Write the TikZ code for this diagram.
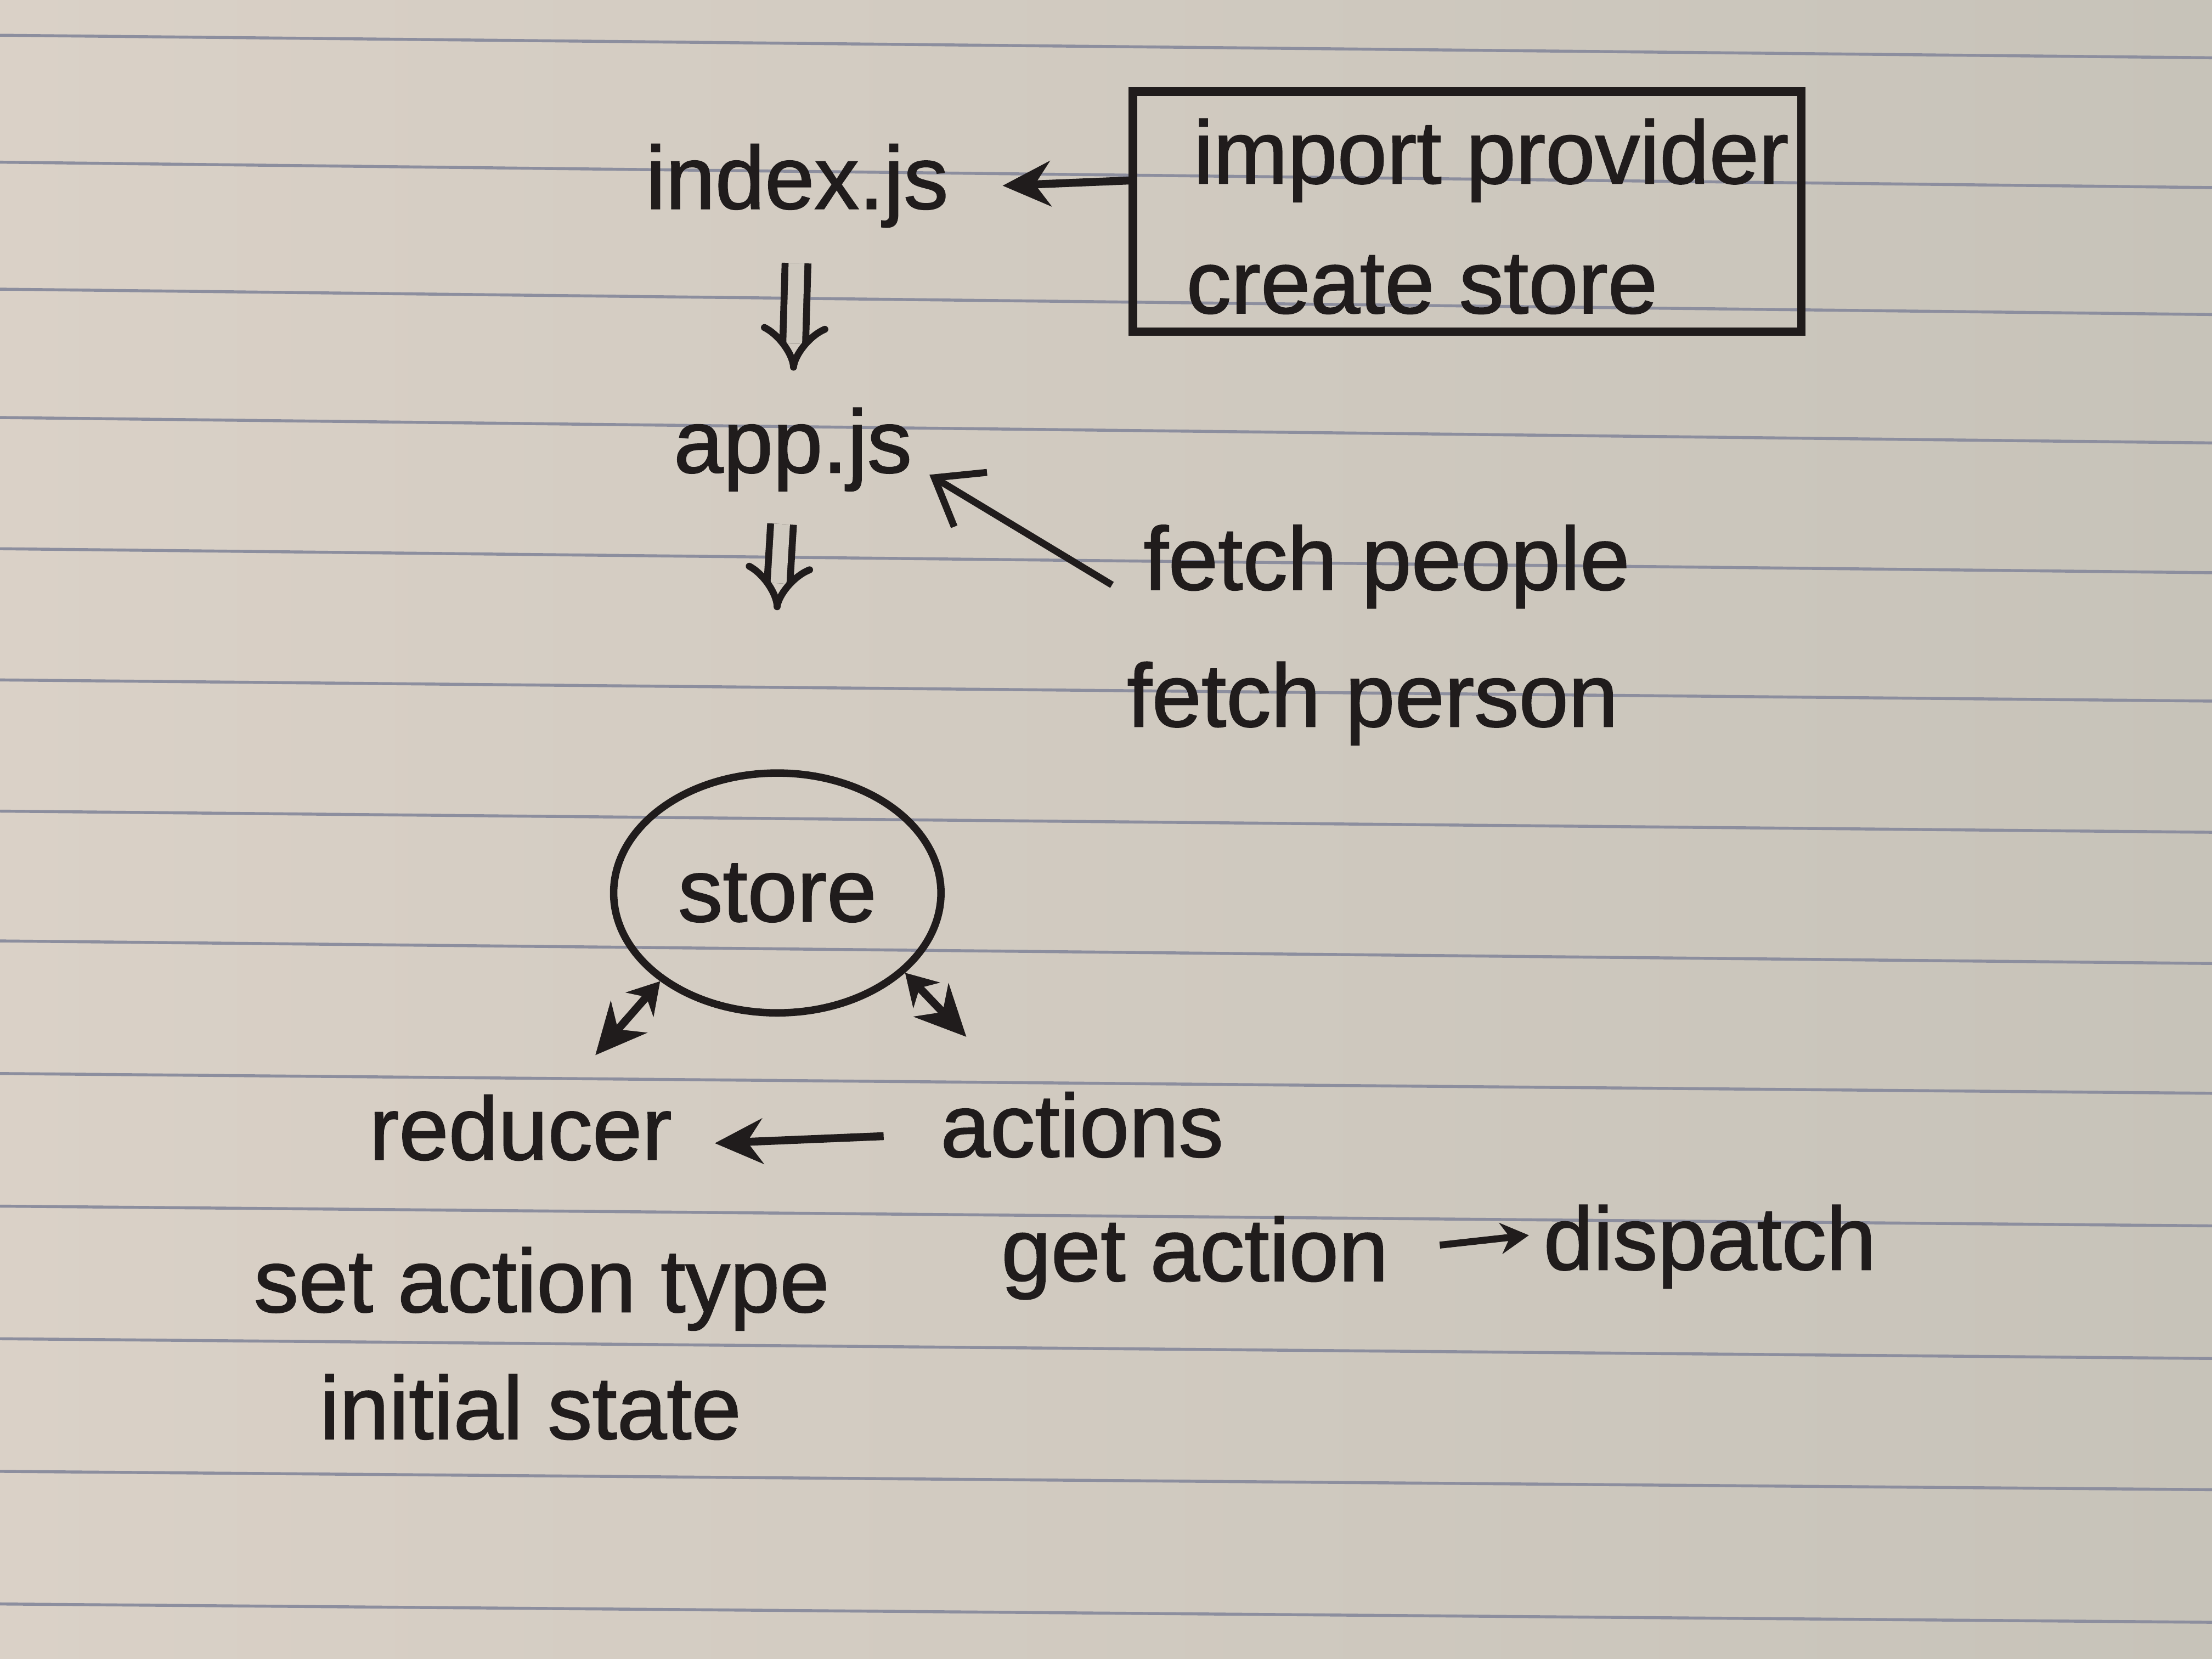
\documentclass[tikz,border=0pt]{standalone}
\usepackage{fontspec}
\setmainfont{Liberation Sans}[FakeBold=1.3]
\usetikzlibrary{arrows.meta,shapes.geometric}
\definecolor{ink}{RGB}{32,28,28}
\definecolor{rulecol}{RGB}{140,142,158}
\definecolor{paperL}{RGB}{218,209,199}
\definecolor{paperR}{RGB}{199,195,185}
\definecolor{paperM}{RGB}{208,202,192}
\begin{document}
\begin{tikzpicture}[
  txt/.style={font=\fontsize{18}{20}\selectfont, text=ink, anchor=base},
  arr/.style={draw=ink, line width=1.6pt, -{Stealth[length=3.4mm,width=3.2mm]}},
  barb/.style={draw=ink, line width=1.4pt, -{Straight Barb[length=3mm,width=4.5mm]}},
  dbl/.style={draw=ink, line width=1.4pt, double=paperM, double distance=3.2pt, -{Implies}},
  both/.style={draw=ink, line width=1.6pt, {Stealth[length=2.2mm,width=2.6mm]}-{Stealth[length=3.6mm,width=3.4mm]}},
  ruled/.style={draw=rulecol, line width=0.6pt}
]
\useasboundingbox (0,0) rectangle (15.68,11.76);
\shade[left color=paperL, right color=paperR] (0,0) rectangle (15.68,11.76);
\foreach \a/\b in {25/41,115/133,205/223,296/314,389/406,482/497,575/590,667/683,761/775,855/869,949/963,1043/1056,1137/1150}
  \draw[ruled] (0,{11.76-\a/100}) -- (15.68,{11.76-\b/100});

% nodes
\node[txt] (index) at (5.65,10.28) {index.js};
\node[draw=ink, line width=1.7pt, minimum width=4.74cm, minimum height=1.70cm] (box) at (10.40,10.26) {};
\node[txt] (ip) at (10.57,10.46) {import provider};
\node[txt] (cs) at (10.08,9.54) {create store};
\node[txt] (app) at (5.62,8.41) {app.js};
\node[txt] (fp) at (9.83,7.58) {fetch people};
\node[txt] (fpe) at (9.73,6.61) {fetch person};
\node[draw=ink, line width=1.5pt, ellipse, minimum width=2.22cm, minimum height=1.70cm,
      font=\fontsize{18}{20}\selectfont, text=ink] (store) at (5.51,5.43) {store};
\node[txt] (reducer) at (3.69,3.54) {reducer};
\node[txt] (actions) at (7.67,3.56) {actions};
\node[txt] (sat) at (3.84,2.46) {set action type};
\node[txt] (ga) at (8.47,2.68) {get action};
\node[txt] (dispatch) at (12.12,2.76) {dispatch};
\node[txt] (is) at (3.76,1.56) {initial state};

\coordinate (redtip) at (4.22,4.28);
\coordinate (acttip) at (6.85,4.41);

% connectors
\draw[arr] ([yshift=2.2mm]box.west) -- ([xshift=2.6mm]index.east);
\draw[dbl, shorten <=1.3mm, shorten >=1.4mm] (index.south) -- (app.north);
\draw[barb] ([xshift=-1mm,yshift=-1.3mm]fp.west) -- ([yshift=2.4mm]app.south east);
\draw[dbl, shorten <=1.1mm, shorten >=11.3mm] ([xshift=-0.7mm]app.south) -- ([xshift=-0.7mm]store.north);
\draw[both] (store.-143) -- (redtip);
\draw[both] (store.-32) -- (acttip);
\draw[arr] ([xshift=-2.8mm,yshift=-0.8mm]actions.west) -- ([xshift=1.8mm,yshift=-1.1mm]reducer.east);
\draw[draw=ink, line width=1.4pt, -{Stealth[length=2mm,width=2.2mm]}] ([xshift=2.4mm,yshift=0.9mm]ga.east) -- ([xshift=0.2mm,yshift=0.8mm]dispatch.west);
\end{tikzpicture}
\end{document}
